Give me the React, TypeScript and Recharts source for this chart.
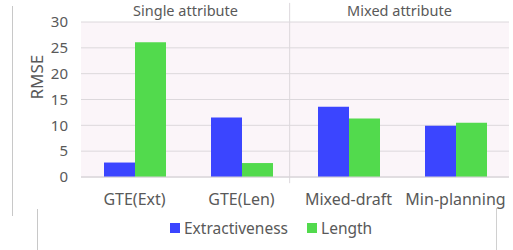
import React from 'react';
import { BarChart, Bar, XAxis, YAxis, CartesianGrid, ReferenceLine } from 'recharts';

const categories = ['GTE(Ext)', 'GTE(Len)', 'Mixed-draft', 'Min-planning'];
const extractiveness = [2.8, 11.5, 13.6, 9.9];
const lengthVals = [26.1, 2.7, 11.3, 10.5];
const yTicks = [0, 5, 10, 15, 20, 25, 30];
const groups = ['Single attribute', 'Mixed attribute'];
const seriesNames = ['Extractiveness', 'Length'];

const BLUE = '#3B45FF';
const GREEN = '#52DA4D';
const TEXT = '#595959';
const FONT = '"Noto Sans", sans-serif';

const data = categories.map((c, i) => ({ cat: c, pos: i + 0.5, ext: extractiveness[i], len: lengthVals[i] }));

export default function App() {
  return (
    <div style={{ position: 'absolute', left: 0, top: 0, width: 513, height: 250, background: '#fff', fontFamily: FONT }}>
      <BarChart width={513} height={250} data={data} margin={{ top: 22, right: 4, left: 0, bottom: 43 }} barGap={0}>
        <CartesianGrid vertical={false} stroke="#DCD8DC" fill="#FBF5F9" />
        <XAxis dataKey="cat" height={30} tickLine={false} axisLine={{ stroke: '#D6D2D6' }} tickMargin={11}
          tick={{ fill: TEXT, fontSize: 16, fontFamily: FONT }} interval={0} />
        <XAxis xAxisId="grp" dataKey="pos" type="number" domain={[0, 4]} allowDataOverflow hide />
        <YAxis domain={[0, 30]} ticks={yTicks} width={81} tickLine={false} axisLine={false} tickMargin={7}
          tick={{ fill: TEXT, fontSize: 15, fontFamily: FONT }}
          label={{ value: 'RMSE', angle: -90, position: 'insideLeft', offset: 37, fill: TEXT, fontSize: 17, fontFamily: FONT }} />
        <ReferenceLine xAxisId="grp" ifOverflow="visible" stroke="#DCD8DC"
          segment={[{ x: 1.95, y: 33.7 }, { x: 1.95, y: -1.2 }]} />
        <Bar dataKey="ext" name={seriesNames[0]} fill={BLUE} barSize={31} isAnimationActive={false} />
        <Bar dataKey="len" name={seriesNames[1]} fill={GREEN} barSize={31} isAnimationActive={false} />
      </BarChart>
      <div style={{ position: 'absolute', left: 81, width: 209, top: 0, textAlign: 'center', fontSize: 14.5, color: TEXT }}>{groups[0]}</div>
      <div style={{ position: 'absolute', left: 290, width: 219, top: 0, textAlign: 'center', fontSize: 14.5, color: TEXT }}>{groups[1]}</div>
      <div style={{ position: 'absolute', left: 170, top: 218, display: 'flex', alignItems: 'center', fontSize: 15.5, color: TEXT, lineHeight: '20px' }}>
        <span style={{ width: 10, height: 10, background: BLUE, display: 'inline-block', marginRight: 4 }} />
        <span style={{ marginRight: 19 }}>{seriesNames[0]}</span>
        <span style={{ width: 10, height: 10, background: GREEN, display: 'inline-block', marginRight: 4 }} />
        <span>{seriesNames[1]}</span>
      </div>
      <div style={{ position: 'absolute', left: 12, top: 6, width: 1, height: 210, background: '#C8C8C8' }} />
      <div style={{ position: 'absolute', left: 37, top: 209, width: 1, height: 41, background: '#C8C8C8' }} />
      <div style={{ position: 'absolute', left: 496, top: 208, width: 1, height: 42, background: '#D0D0D0' }} />
    </div>
  );
}
